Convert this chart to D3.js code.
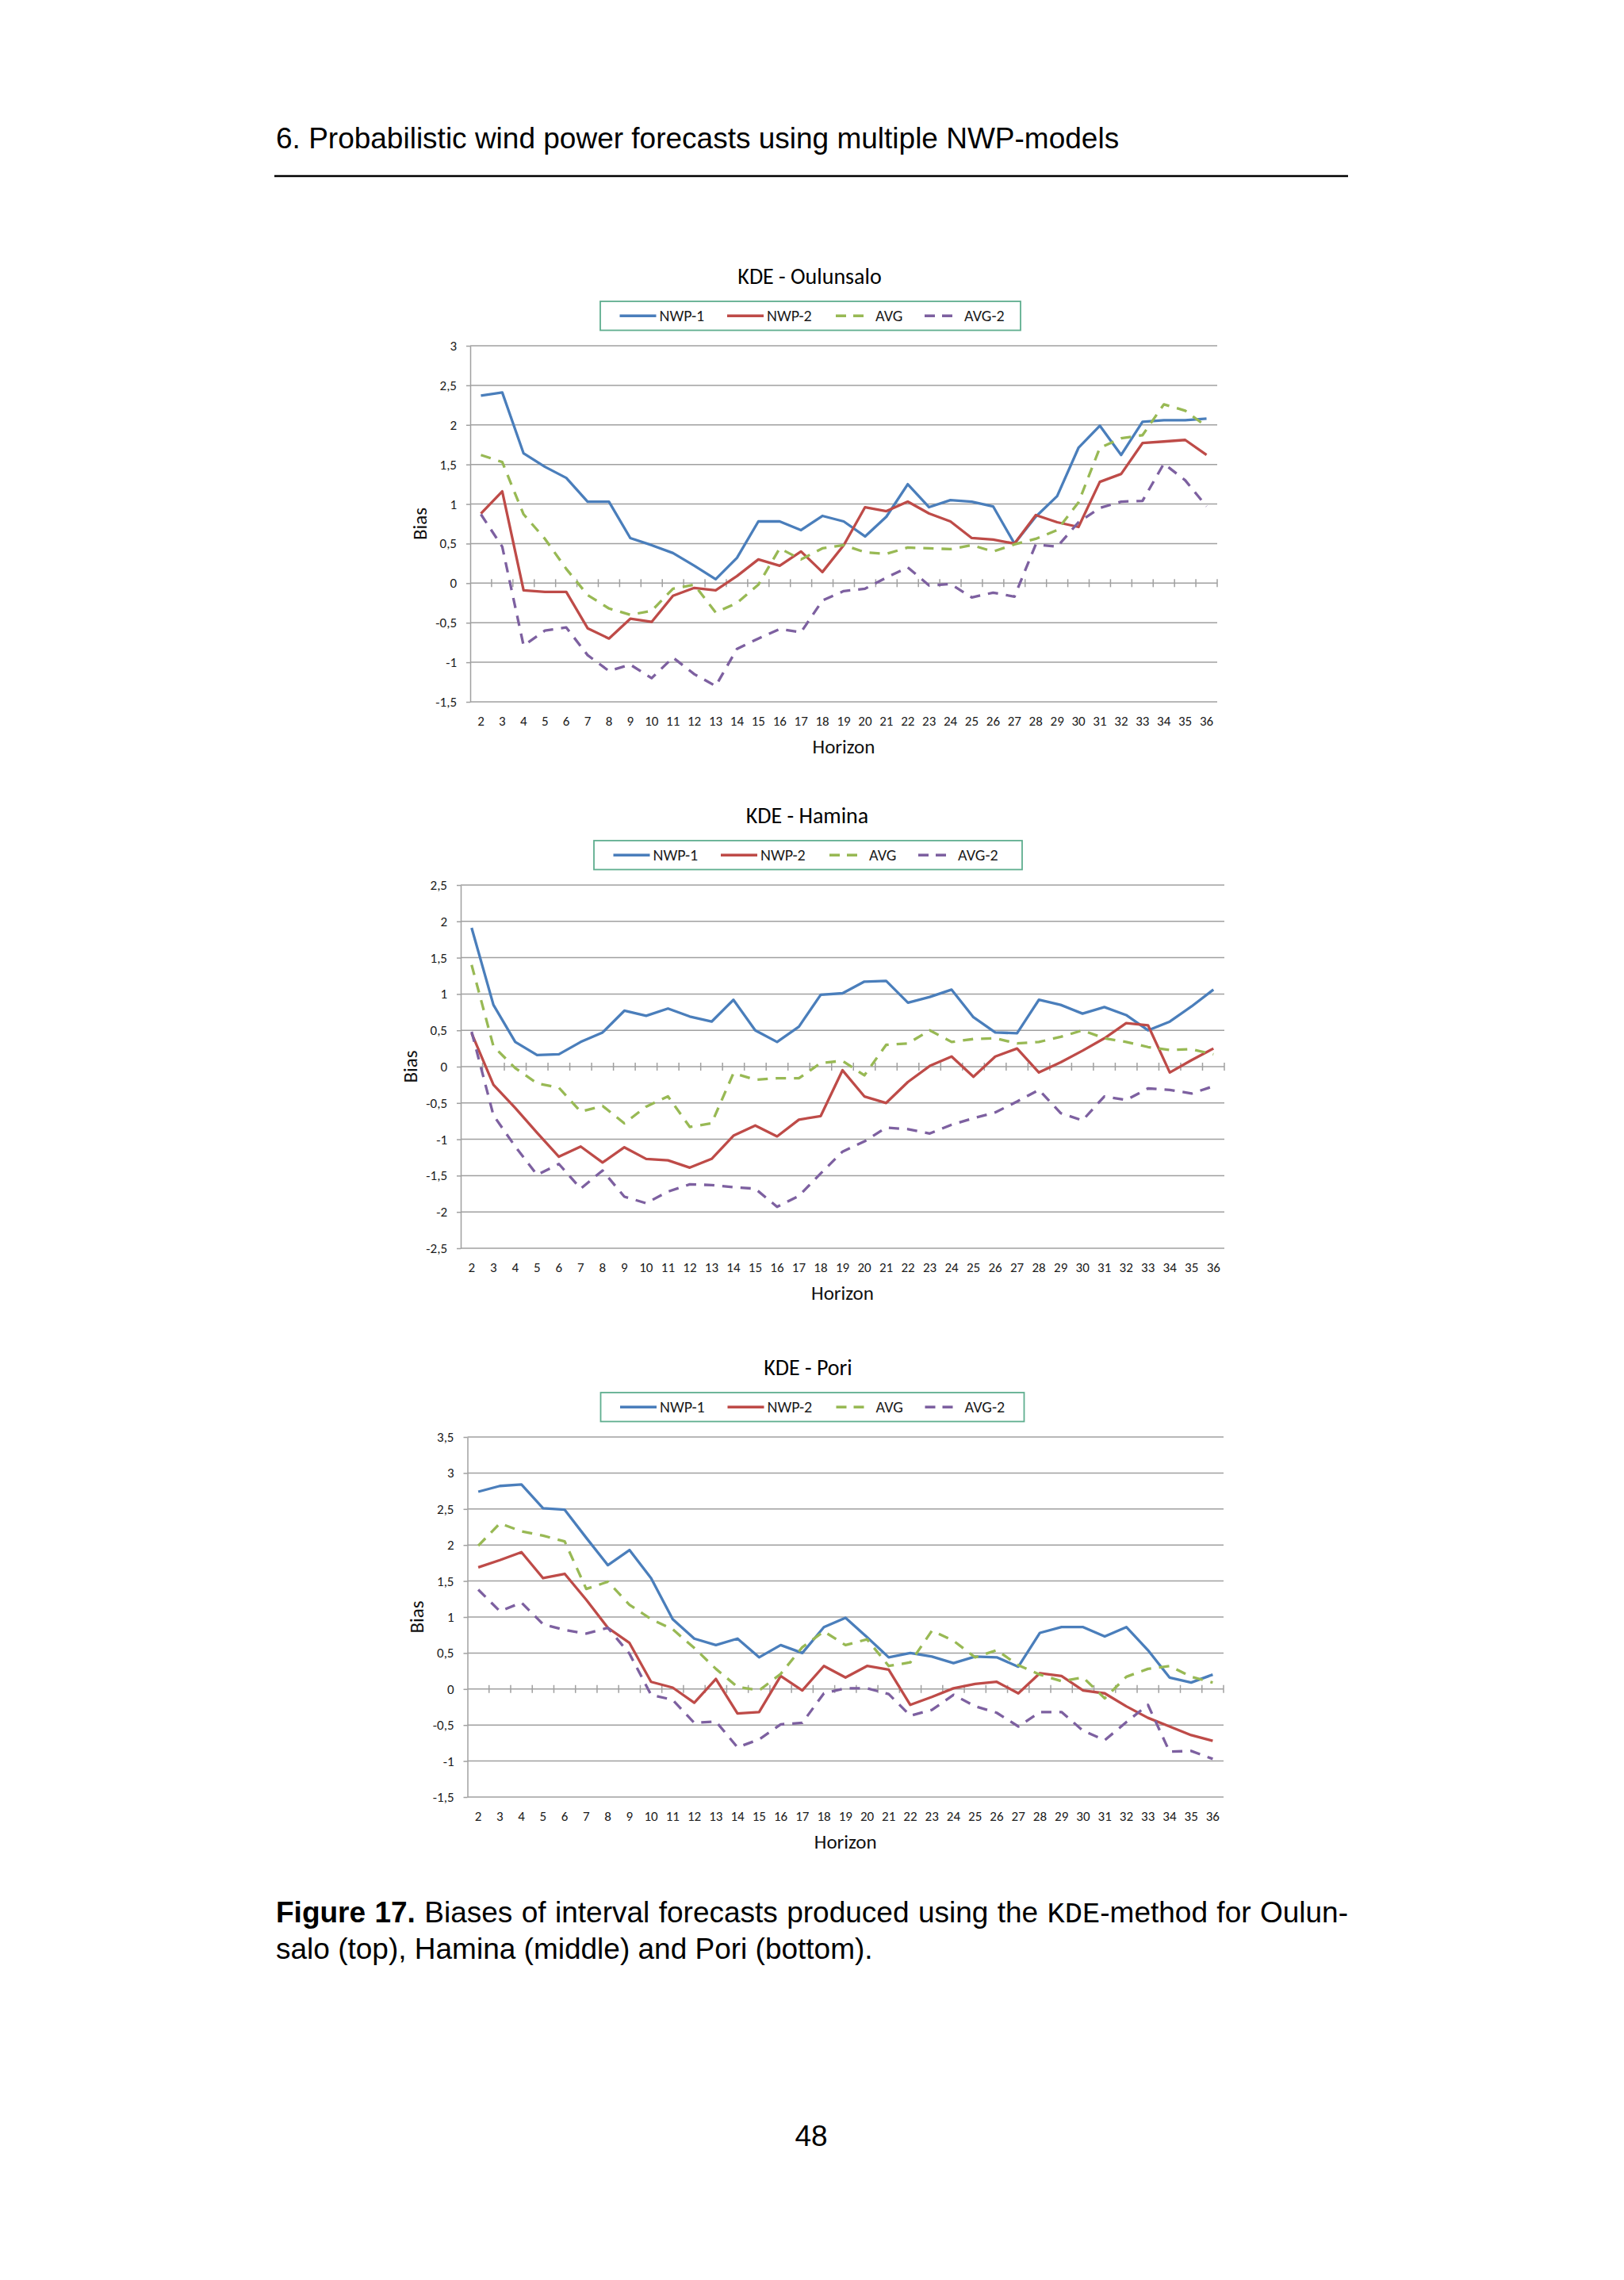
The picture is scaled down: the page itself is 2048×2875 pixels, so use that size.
<!DOCTYPE html>
<html>
<head>
<meta charset="utf-8">
<script src="https://cdn.jsdelivr.net/npm/d3@7"></script>
<style>
  html, body { margin: 0; padding: 0; background: #fff; }
  svg { display: block; }
</style>
</head>
<body>
<div id="page"></div>
<script>
'use strict';

// horizons on the category axis
const horizons = [2, 3, 4, 5, 6, 7, 8, 9, 10, 11, 12, 13, 14, 15, 16, 17, 18, 19,
    20, 21, 22, 23, 24, 25, 26, 27, 28, 29, 30, 31, 32, 33, 34, 35, 36];

const seriesNames = ['NWP-1', 'NWP-2', 'AVG', 'AVG-2'];

// KDE - Oulunsalo
const ouluNwp1 = [2.37, 2.41, 1.64, 1.47, 1.33, 1.03, 1.03, 0.57, 0.48, 0.38, 0.22, 0.05, 0.32, 0.78, 0.78, 0.67, 0.85, 0.78,
    0.59, 0.84, 1.25, 0.96, 1.05, 1.03, 0.97, 0.50, 0.84, 1.10, 1.71, 1.99, 1.62, 2.04, 2.06, 2.06, 2.08];
const ouluNwp2 = [0.88, 1.16, -0.09, -0.11, -0.11, -0.57, -0.70, -0.45, -0.49, -0.16, -0.06, -0.09, 0.09, 0.30, 0.22, 0.40, 0.14, 0.48,
    0.96, 0.91, 1.03, 0.88, 0.78, 0.57, 0.55, 0.50, 0.86, 0.77, 0.71, 1.28, 1.38, 1.77, 1.79, 1.81, 1.62];
const ouluAvg = [1.62, 1.53, 0.87, 0.56, 0.18, -0.15, -0.32, -0.40, -0.35, -0.07, -0.02, -0.37, -0.25, -0.02, 0.44, 0.30, 0.44, 0.48,
    0.39, 0.37, 0.45, 0.44, 0.43, 0.48, 0.40, 0.49, 0.56, 0.67, 1.02, 1.71, 1.83, 1.87, 2.26, 2.18, 1.98];
const ouluAvg2 = [0.87, 0.46, -0.79, -0.60, -0.56, -0.91, -1.11, -1.03, -1.20, -0.94, -1.15, -1.30, -0.83, -0.70, -0.58, -0.62, -0.22, -0.10,
    -0.07, 0.07, 0.20, -0.03, -0.01, -0.18, -0.12, -0.17, 0.49, 0.46, 0.77, 0.95, 1.03, 1.04, 1.51, 1.30, 0.97];
const ouluTicks = [-1.5, -1, -0.5, 0, 0.5, 1, 1.5, 2, 2.5, 3];

// KDE - Hamina
const hamiNwp1 = [1.91, 0.85, 0.34, 0.16, 0.17, 0.34, 0.47, 0.77, 0.70, 0.80, 0.69, 0.62, 0.92, 0.50, 0.34, 0.55, 0.99, 1.01,
    1.17, 1.18, 0.88, 0.96, 1.06, 0.68, 0.47, 0.46, 0.92, 0.85, 0.73, 0.82, 0.71, 0.50, 0.62, 0.83, 1.06];
const hamiNwp2 = [0.46, -0.25, -0.57, -0.91, -1.24, -1.10, -1.32, -1.11, -1.27, -1.29, -1.39, -1.27, -0.95, -0.81, -0.96, -0.73, -0.68, -0.05,
    -0.41, -0.50, -0.21, 0.01, 0.14, -0.14, 0.14, 0.25, -0.08, 0.06, 0.22, 0.39, 0.60, 0.57, -0.08, 0.09, 0.25];
const hamiAvg = [1.40, 0.28, -0.02, -0.23, -0.29, -0.62, -0.54, -0.78, -0.55, -0.41, -0.83, -0.78, -0.09, -0.18, -0.16, -0.16, 0.05, 0.08,
    -0.12, 0.30, 0.32, 0.50, 0.34, 0.38, 0.39, 0.32, 0.34, 0.41, 0.50, 0.39, 0.34, 0.27, 0.23, 0.24, 0.17];
const hamiAvg2 = [0.48, -0.67, -1.10, -1.49, -1.34, -1.68, -1.43, -1.79, -1.88, -1.72, -1.62, -1.63, -1.66, -1.68, -1.93, -1.78, -1.47, -1.17,
    -1.03, -0.84, -0.86, -0.92, -0.80, -0.71, -0.63, -0.48, -0.32, -0.64, -0.74, -0.41, -0.46, -0.30, -0.32, -0.37, -0.27];
const hamiTicks = [-2.5, -2, -1.5, -1, -0.5, 0, 0.5, 1, 1.5, 2, 2.5];

// KDE - Pori
const poriNwp1 = [2.74, 2.82, 2.84, 2.51, 2.49, 2.10, 1.72, 1.93, 1.54, 0.97, 0.70, 0.61, 0.70, 0.44, 0.61, 0.50, 0.86, 0.99,
    0.72, 0.44, 0.50, 0.45, 0.36, 0.45, 0.44, 0.31, 0.78, 0.86, 0.86, 0.73, 0.86, 0.54, 0.16, 0.09, 0.20];
const poriNwp2 = [1.69, 1.79, 1.90, 1.54, 1.60, 1.24, 0.85, 0.64, 0.10, 0.02, -0.19, 0.14, -0.34, -0.32, 0.18, -0.02, 0.32, 0.16,
    0.32, 0.27, -0.22, -0.11, 0.01, 0.07, 0.10, -0.06, 0.22, 0.18, -0.02, -0.06, -0.24, -0.40, -0.52, -0.64, -0.72];
const poriAvg = [1.99, 2.30, 2.19, 2.13, 2.05, 1.39, 1.49, 1.17, 0.97, 0.83, 0.57, 0.28, 0.03, -0.02, 0.21, 0.58, 0.80, 0.61,
    0.69, 0.32, 0.37, 0.81, 0.67, 0.44, 0.54, 0.33, 0.20, 0.11, 0.16, -0.13, 0.17, 0.28, 0.32, 0.17, 0.09];
const poriAvg2 = [1.38, 1.08, 1.20, 0.90, 0.82, 0.77, 0.85, 0.49, -0.08, -0.15, -0.47, -0.45, -0.81, -0.70, -0.49, -0.47, -0.06, 0.01,
    0.01, -0.07, -0.37, -0.29, -0.08, -0.24, -0.33, -0.52, -0.32, -0.32, -0.58, -0.71, -0.46, -0.22, -0.87, -0.86, -0.97];
const poriTicks = [-1.5, -1, -0.5, 0, 0.5, 1, 1.5, 2, 2.5, 3, 3.5];

// styles per series
const colors = ['#4a7ebb', '#be4b48', '#98b954', '#7d60a0'];
const dashes = [null, null, '13,10', '13,10'];

const chartFont = "Carlito, Calibri, Lato, sans-serif";
const pageFont = "'Liberation Sans', Arial, Helvetica, sans-serif";

const svg = d3.select('#page')
    .append('svg')
    .attr('width', 2048)
    .attr('height', 2875);

svg.append('rect')
    .attr('width', 2048)
    .attr('height', 2875)
    .attr('fill', '#fff');

// running header
svg.append('text')
    .attr('x', 348)
    .attr('y', 187)
    .attr('font-family', pageFont)
    .attr('font-size', 37)
    .attr('fill', '#000')
    .text('6. Probabilistic wind power forecasts using multiple NWP-models');

svg.append('line')
    .attr('x1', 346).attr('x2', 1700)
    .attr('y1', 222).attr('y2', 222)
    .attr('stroke', '#000')
    .attr('stroke-width', 2.5);

const fmt = d => String(d).replace('.', ',');

function drawChart(cfg) {
    const g = svg.append('g');

    const x = d3.scaleBand()
        .domain(horizons)
        .range([cfg.left, cfg.right]);

    const y = d3.scaleLinear()
        .domain([cfg.ticks[0], cfg.ticks[cfg.ticks.length - 1]])
        .range([cfg.bottom, cfg.top]);

    const bw = x.bandwidth();

    // gridlines
    g.append('g')
        .selectAll('line')
        .data(cfg.ticks)
        .join('line')
        .attr('x1', cfg.left)
        .attr('x2', cfg.right)
        .attr('y1', d => y(d))
        .attr('y2', d => y(d))
        .attr('stroke', '#a0a0a0')
        .attr('stroke-width', 1.5);

    // Y axis
    const yAxis = g.append('g')
        .attr('transform', 'translate(' + cfg.left + ',0)')
        .call(d3.axisLeft(y).tickValues(cfg.ticks).tickFormat(fmt).tickSize(5).tickPadding(12).tickSizeOuter(0));
    yAxis.select('.domain').attr('stroke', '#a0a0a0').attr('stroke-width', 1.5);
    yAxis.selectAll('.tick line').attr('stroke', '#a0a0a0').attr('stroke-width', 1.5);
    yAxis.selectAll('text')
        .attr('font-family', chartFont)
        .attr('font-size', 17)
        .attr('fill', '#1a1a1a');

    // category axis crossing at zero, with cross tick marks
    const boundaries = horizons.slice(1).map(h => x(h)).concat([cfg.right]);
    g.append('g')
        .selectAll('line')
        .data(boundaries)
        .join('line')
        .attr('x1', d => d).attr('x2', d => d)
        .attr('y1', y(0) - 5).attr('y2', y(0) + 5)
        .attr('stroke', '#a0a0a0')
        .attr('stroke-width', 1.5);

    g.append('g')
        .selectAll('text')
        .data(horizons)
        .join('text')
        .attr('x', d => x(d) + bw / 2)
        .attr('y', cfg.bottom + 24)
        .attr('text-anchor', 'middle')
        .attr('dominant-baseline', 'central')
        .attr('font-family', chartFont)
        .attr('font-size', 17)
        .attr('fill', '#1a1a1a')
        .text(d => d);

    // axis titles
    g.append('text')
        .attr('x', (cfg.left + cfg.right) / 2)
        .attr('y', cfg.bottom + 56)
        .attr('text-anchor', 'middle')
        .attr('dominant-baseline', 'central')
        .attr('font-family', chartFont)
        .attr('font-size', 25)
        .attr('fill', '#111')
        .text('Horizon');

    g.append('text')
        .attr('transform', 'translate(' + (cfg.left - 64) + ',' + ((cfg.top + cfg.bottom) / 2) + ') rotate(-90)')
        .attr('text-anchor', 'middle')
        .attr('dominant-baseline', 'central')
        .attr('font-family', chartFont)
        .attr('font-size', 25)
        .attr('fill', '#111')
        .text('Bias');

    // title
    g.append('text')
        .attr('x', cfg.titleX)
        .attr('y', cfg.top - 78)
        .attr('text-anchor', 'middle')
        .attr('font-family', chartFont)
        .attr('font-size', 28)
        .attr('fill', '#000')
        .text(cfg.title);

    // series
    const line = d3.line()
        .x((d, i) => x(horizons[i]) + bw / 2)
        .y(d => y(d));

    cfg.series.forEach((s, i) => {
        g.append('path')
            .datum(s)
            .attr('d', line)
            .attr('fill', 'none')
            .attr('stroke', colors[i])
            .attr('stroke-width', 3.3)
            .attr('stroke-linejoin', 'round')
            .attr('stroke-dasharray', dashes[i]);
    });

    // legend
    const legTop = cfg.top - 56;
    const legH = 36.5;
    const leg = g.append('g');
    leg.append('rect')
        .attr('x', cfg.legendX)
        .attr('y', legTop)
        .attr('width', cfg.legendW)
        .attr('height', legH)
        .attr('fill', '#fff')
        .attr('stroke', '#5fae8f')
        .attr('stroke-width', 1.8);

    const itemOffsets = [24.5, 160, 297, 409];
    seriesNames.forEach((name, i) => {
        const lx = cfg.legendX + itemOffsets[i];
        const ly = legTop + legH / 2;
        leg.append('line')
            .attr('x1', lx)
            .attr('x2', lx + (dashes[i] ? 36 : 46))
            .attr('y1', ly).attr('y2', ly)
            .attr('stroke', colors[i])
            .attr('stroke-width', 3.3)
            .attr('stroke-dasharray', dashes[i] ? '13,9' : null);
        leg.append('text')
            .attr('x', lx + 50)
            .attr('y', ly)
            .attr('dominant-baseline', 'central')
            .attr('font-family', chartFont)
            .attr('font-size', 20)
            .attr('fill', '#1a1a1a')
            .text(name);
    });
}

drawChart({
    title: 'KDE - Oulunsalo', titleX: 1021,
    series: [ouluNwp1, ouluNwp2, ouluAvg, ouluAvg2], ticks: ouluTicks,
    left: 593, right: 1535, top: 436, bottom: 885,
    legendX: 757, legendW: 530
});

drawChart({
    title: 'KDE - Hamina', titleX: 1018,
    series: [hamiNwp1, hamiNwp2, hamiAvg, hamiAvg2], ticks: hamiTicks,
    left: 581, right: 1544, top: 1116, bottom: 1574,
    legendX: 749, legendW: 540
});

drawChart({
    title: 'KDE - Pori', titleX: 1019,
    series: [poriNwp1, poriNwp2, poriAvg, poriAvg2], ticks: poriTicks,
    left: 589.5, right: 1543, top: 1812, bottom: 2266,
    legendX: 757.5, legendW: 534
});

// caption
const cap1 = svg.append('text')
    .attr('x', 348)
    .attr('y', 2424)
    .attr('font-family', pageFont)
    .attr('font-size', 37)
    .attr('fill', '#000')
    .style('white-space', 'pre');
cap1.append('tspan').attr('font-weight', 'bold').text('Figure 17.');
cap1.append('tspan').text(' Biases of interval forecasts produced using the ');
cap1.append('tspan')
    .style('font-family', "'Liberation Mono', 'DejaVu Sans Mono', monospace")
    .style('font-weight', '300')
    .text('KDE');
cap1.append('tspan').text('-method for Oulun-');

const natural = cap1.node().getComputedTextLength();
cap1.attr('word-spacing', (1352 - natural) / 11);

svg.append('text')
    .attr('x', 348)
    .attr('y', 2470)
    .attr('font-family', pageFont)
    .attr('font-size', 37)
    .attr('fill', '#000')
    .text('salo (top), Hamina (middle) and Pori (bottom).');

// page number
svg.append('text')
    .attr('x', 1023)
    .attr('y', 2706)
    .attr('text-anchor', 'middle')
    .attr('font-family', pageFont)
    .attr('font-size', 37)
    .attr('fill', '#000')
    .text('48');
</script>
</body>
</html>
